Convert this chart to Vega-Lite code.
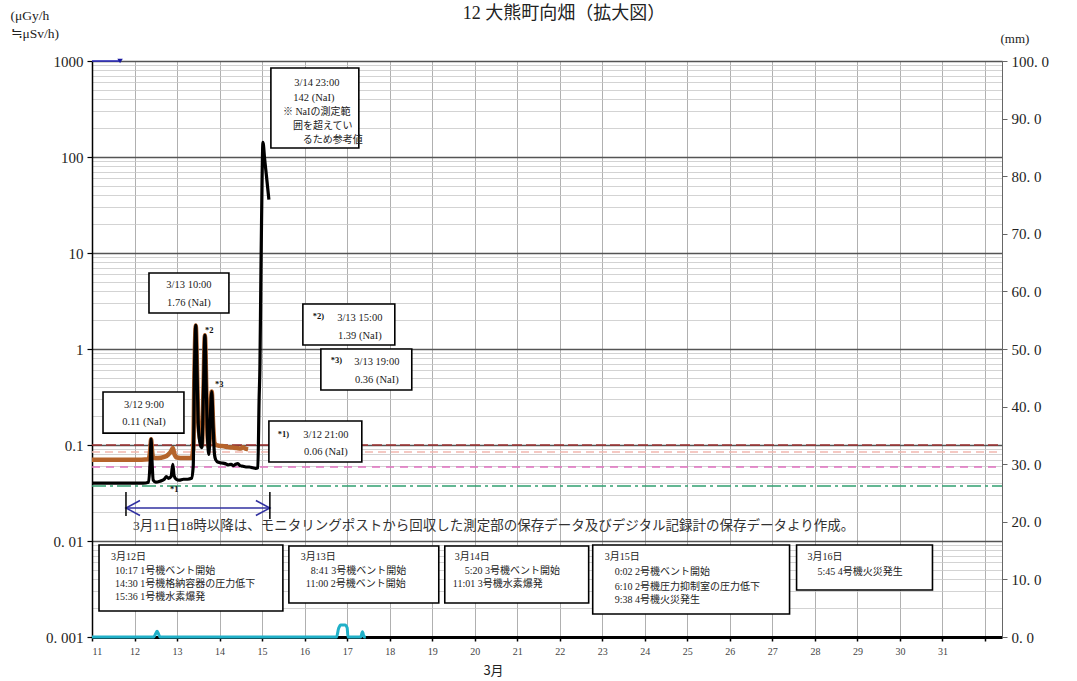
{
  "$schema": "https://vega.github.io/schema/vega-lite/v6.json",
  "width": 910,
  "height": 576,
  "autosize": {"type": "none"},
  "padding": {"left": 92, "top": 61, "right": 75, "bottom": 44},
  "background": "white",
  "config": {"view": {"stroke": "#666666", "strokeWidth": 1}},
  "title": {"text": "12 大熊町向畑（拡大図）", "font": "Liberation Serif, Noto Sans CJK JP", "fontSize": 18, "fontWeight": "normal", "color": "#222222", "anchor": "middle", "frame": "group", "dx": 17, "dy": 15, "offset": 0},
  "datasets": {
    "black": [
      {"d": 11.0, "v": 0.040}, {"d": 11.3, "v": 0.040}, {"d": 11.6, "v": 0.040}, {"d": 11.9, "v": 0.040}, {"d": 12.2, "v": 0.040},
      {"d": 12.33, "v": 0.041}, {"d": 12.37, "v": 0.07}, {"d": 12.39, "v": 0.115}, {"d": 12.41, "v": 0.07}, {"d": 12.44, "v": 0.043},
      {"d": 12.5, "v": 0.041}, {"d": 12.6, "v": 0.042}, {"d": 12.7, "v": 0.044}, {"d": 12.75, "v": 0.047}, {"d": 12.8, "v": 0.045},
      {"d": 12.86, "v": 0.047}, {"d": 12.9, "v": 0.063}, {"d": 12.93, "v": 0.048}, {"d": 12.98, "v": 0.044}, {"d": 13.05, "v": 0.043},
      {"d": 13.15, "v": 0.044}, {"d": 13.25, "v": 0.044}, {"d": 13.34, "v": 0.045}, {"d": 13.38, "v": 0.06}, {"d": 13.41, "v": 0.6},
      {"d": 13.44, "v": 1.76}, {"d": 13.47, "v": 0.6}, {"d": 13.5, "v": 0.16}, {"d": 13.55, "v": 0.1}, {"d": 13.585, "v": 0.094},
      {"d": 13.62, "v": 0.35}, {"d": 13.655, "v": 1.39}, {"d": 13.69, "v": 0.35}, {"d": 13.72, "v": 0.11}, {"d": 13.75, "v": 0.08},
      {"d": 13.78, "v": 0.18}, {"d": 13.815, "v": 0.36}, {"d": 13.85, "v": 0.15}, {"d": 13.88, "v": 0.08}, {"d": 13.91, "v": 0.07},
      {"d": 13.97, "v": 0.066}, {"d": 14.05, "v": 0.065}, {"d": 14.13, "v": 0.064}, {"d": 14.2, "v": 0.062}, {"d": 14.27, "v": 0.063},
      {"d": 14.33, "v": 0.061}, {"d": 14.38, "v": 0.063}, {"d": 14.43, "v": 0.064}, {"d": 14.48, "v": 0.061}, {"d": 14.55, "v": 0.06},
      {"d": 14.62, "v": 0.059}, {"d": 14.7, "v": 0.059}, {"d": 14.78, "v": 0.058}, {"d": 14.85, "v": 0.057}, {"d": 14.9, "v": 0.058},
      {"d": 14.93, "v": 0.3}, {"d": 14.95, "v": 0.7}, {"d": 14.97, "v": 5}, {"d": 15.0, "v": 60}, {"d": 15.02, "v": 142},
      {"d": 15.06, "v": 95}, {"d": 15.1, "v": 65}, {"d": 15.16, "v": 36}
    ],
    "orange": [
      {"d": 11.0, "v": 0.070}, {"d": 11.5, "v": 0.070}, {"d": 12.0, "v": 0.070}, {"d": 12.33, "v": 0.071}, {"d": 12.37, "v": 0.09},
      {"d": 12.39, "v": 0.115}, {"d": 12.41, "v": 0.09}, {"d": 12.44, "v": 0.074}, {"d": 12.55, "v": 0.073}, {"d": 12.7, "v": 0.075},
      {"d": 12.8, "v": 0.08}, {"d": 12.86, "v": 0.086}, {"d": 12.9, "v": 0.093}, {"d": 12.94, "v": 0.08}, {"d": 13.0, "v": 0.074},
      {"d": 13.15, "v": 0.073}, {"d": 13.34, "v": 0.073}, {"d": 13.38, "v": 0.09}, {"d": 13.41, "v": 0.6}, {"d": 13.44, "v": 1.76},
      {"d": 13.47, "v": 0.6}, {"d": 13.5, "v": 0.17}, {"d": 13.55, "v": 0.11}, {"d": 13.585, "v": 0.1}, {"d": 13.62, "v": 0.35},
      {"d": 13.655, "v": 1.39}, {"d": 13.69, "v": 0.35}, {"d": 13.72, "v": 0.12}, {"d": 13.75, "v": 0.095}, {"d": 13.78, "v": 0.18},
      {"d": 13.815, "v": 0.36}, {"d": 13.85, "v": 0.16}, {"d": 13.88, "v": 0.105}, {"d": 13.92, "v": 0.1}, {"d": 14.0, "v": 0.098},
      {"d": 14.1, "v": 0.097}, {"d": 14.2, "v": 0.095}, {"d": 14.3, "v": 0.094}, {"d": 14.4, "v": 0.093}, {"d": 14.5, "v": 0.092},
      {"d": 14.55, "v": 0.095}, {"d": 14.6, "v": 0.092}, {"d": 14.67, "v": 0.09}
    ],
    "topline": [{"d": 11.0, "v": 1000}, {"d": 11.33, "v": 1000}, {"d": 11.66, "v": 1000}],
    "topmark": [{"d": 11.66, "v": 1000}],
    "rain": [
      {"d": 11.0, "r": 0}, {"d": 12.45, "r": 0}, {"d": 12.5, "r": 0.6}, {"d": 12.53, "r": 1.0}, {"d": 12.56, "r": 0.6}, {"d": 12.6, "r": 0},
      {"d": 16.75, "r": 0}, {"d": 16.8, "r": 1.5}, {"d": 16.85, "r": 2.1}, {"d": 16.95, "r": 2.1}, {"d": 17.0, "r": 1.6}, {"d": 17.02, "r": 0},
      {"d": 17.32, "r": 0}, {"d": 17.36, "r": 0.9}, {"d": 17.4, "r": 0}, {"d": 17.44, "r": 0}
    ],
    "refs": [
      {"v": 0.1, "k": "a"}, {"v": 0.0845, "k": "b"}, {"v": 0.059, "k": "c"}, {"v": 0.0374, "k": "d"}
    ],
    "arrow": [{"x1": 11.799, "x2": 15.183, "v": 0.02208}],
    "arrowheads": [{"d": 11.799, "v": 0.02208, "dir": "L"}, {"d": 15.183, "v": 0.02208, "dir": "R"}],
    "ticks": [{"d": 11.799, "v1": 0.0324, "v2": 0.0182}, {"d": 15.183, "v1": 0.0324, "v2": 0.017}],
    "boxes": [
      {"x1": 15.207, "x2": 17.275, "y1": 845, "y2": 124},
      {"x1": 12.34, "x2": 14.22, "y1": 6.19, "y2": 2.37},
      {"x1": 15.959, "x2": 18.121, "y1": 2.94, "y2": 1.10},
      {"x1": 16.382, "x2": 18.52, "y1": 1.0, "y2": 0.374},
      {"x1": 15.16, "x2": 17.345, "y1": 0.178, "y2": 0.0666},
      {"x1": 11.259, "x2": 13.162, "y1": 0.356, "y2": 0.133},
      {"x1": 11.165, "x2": 15.489, "y1": 0.00908, "y2": 0.001866},
      {"x1": 15.63, "x2": 19.155, "y1": 0.00887, "y2": 0.00226},
      {"x1": 19.296, "x2": 22.68, "y1": 0.00887, "y2": 0.00226},
      {"x1": 22.775, "x2": 27.404, "y1": 0.00908, "y2": 0.001738},
      {"x1": 27.569, "x2": 30.765, "y1": 0.00908, "y2": 0.00309}
    ],
    "textc": [
      {"d": 16.288, "v": 590, "t": "3/14 23:00"},
      {"d": 16.217, "v": 412, "t": "142 (NaI)"},
      {"d": 13.28, "v": 4.64, "t": "3/13 10:00"},
      {"d": 13.28, "v": 3.01, "t": "1.76 (NaI)"},
      {"d": 17.298, "v": 2.10, "t": "3/13 15:00"},
      {"d": 17.298, "v": 1.36, "t": "1.39 (NaI)"},
      {"d": 17.698, "v": 0.733, "t": "3/13 19:00"},
      {"d": 17.698, "v": 0.475, "t": "0.36 (NaI)"},
      {"d": 16.5, "v": 0.127, "t": "3/12 21:00"},
      {"d": 16.5, "v": 0.0845, "t": "0.06 (NaI)"},
      {"d": 12.222, "v": 0.261, "t": "3/12 9:00"},
      {"d": 12.222, "v": 0.174, "t": "0.11 (NaI)"}
    ],
    "textl": [
      {"d": 15.489, "v": 294, "t": "※ NaIの測定範"},
      {"d": 15.724, "v": 210, "t": "囲を超えてい"},
      {"d": 15.959, "v": 150, "t": "るため参考値"},
      {"d": 11.447, "v": 0.00681, "t": "3月12日"},
      {"d": 11.541, "v": 0.00487, "t": "10:17 1号機ベント開始"},
      {"d": 11.541, "v": 0.00357, "t": "14:30 1号機格納容器の圧力低下"},
      {"d": 11.541, "v": 0.00261, "t": "15:36 1号機水素爆発"},
      {"d": 15.912, "v": 0.00681, "t": "3月13日"},
      {"d": 16.147, "v": 0.00487, "t": "8:41 3号機ベント開始"},
      {"d": 16.029, "v": 0.00357, "t": "11:00 2号機ベント開始"},
      {"d": 19.531, "v": 0.00681, "t": "3月14日"},
      {"d": 19.766, "v": 0.00487, "t": "5:20 3号機ベント開始"},
      {"d": 19.484, "v": 0.00357, "t": "11:01 3号機水素爆発"},
      {"d": 23.057, "v": 0.00681, "t": "3月15日"},
      {"d": 23.292, "v": 0.00475, "t": "0:02 2号機ベント開始"},
      {"d": 23.292, "v": 0.00332, "t": "6:10 2号機圧力抑制室の圧力低下"},
      {"d": 23.292, "v": 0.00243, "t": "9:38 4号機火災発生"},
      {"d": 27.827, "v": 0.00681, "t": "3月16日"},
      {"d": 28.062, "v": 0.00475, "t": "5:45 4号機火災発生"}
    ],
    "marks": [
      {"d": 16.19, "v": 2.21, "t": "*2)"},
      {"d": 16.617, "v": 0.763, "t": "*3)"},
      {"d": 15.371, "v": 0.131, "t": "*1)"},
      {"d": 12.833, "v": 0.0348, "t": "*1"},
      {"d": 13.656, "v": 1.58, "t": "*2"},
      {"d": 13.89, "v": 0.431, "t": "*3"}
    ],
    "note": [
      {"d": 11.964, "v": 0.01432, "t": "3月11日18時以降は、モニタリングポストから回収した測定部の保存データ及びデジタル記録計の保存データより作成。"}
    ]
  },
  "layer": [
    {
      "layer": [
        {
          "data": {"name": "refs"},
          "mark": {"type": "rule", "strokeWidth": 1.5},
          "encoding": {
            "x": {"datum": 11, "type": "quantitative",
              "scale": {"domain": [11, 32.4], "nice": false, "zero": false},
              "axis": {
                "values": [11, 11.5, 12, 12.5, 13, 13.5, 14, 14.5, 15, 15.5, 16, 16.5, 17, 17.5, 18, 18.5, 19, 19.5, 20, 20.5, 21, 21.5, 22, 22.5, 23, 23.5, 24, 24.5, 25, 25.5, 26, 26.5, 27, 27.5, 28, 28.5, 29, 29.5, 30, 30.5, 31, 31.5, 32],
                "grid": true, "gridColor": "#b0b0b0", "gridWidth": 1,
                "labelExpr": "(datum.value % 1 == 0 && datum.value <= 31) ? format(datum.value, 'd') : ''",
                "labelFont": "Liberation Serif", "labelFontSize": 10, "labelColor": "#444444", "labelPadding": 5, "labelOverlap": false, "labelBound": false,
                "tickColor": "#000000", "tickSize": 4, "tickWidth": 1.5,
                "tickOpacity": {"condition": {"test": "datum.value % 1 == 0", "value": 1}, "value": 0},
                "domainColor": "#000000", "domainWidth": 3,
                "title": "3月", "titleFont": "Noto Sans CJK JP", "titleFontSize": 13, "titleFontWeight": "normal", "titleColor": "#222222",
                "titleX": 401, "titleY": 33, "titleBaseline": "middle", "titleAlign": "center"
              }
            },
            "x2": {"datum": 32.4},
            "y": {"field": "v", "type": "quantitative",
              "scale": {"type": "log", "domain": [0.001, 1000], "nice": false},
              "axis": {
                "orient": "left",
                "values": [0.001, 0.002, 0.003, 0.004, 0.005, 0.006, 0.007, 0.008, 0.009, 0.01, 0.02, 0.03, 0.04, 0.05, 0.06, 0.07, 0.08, 0.09, 0.1, 0.2, 0.3, 0.4, 0.5, 0.6, 0.7, 0.8, 0.9, 1, 2, 3, 4, 5, 6, 7, 8, 9, 10, 20, 30, 40, 50, 60, 70, 80, 90, 100, 200, 300, 400, 500, 600, 700, 800, 900, 1000],
                "grid": true,
                "gridColor": {"condition": {"test": "abs(log(datum.value)/LN10 - round(log(datum.value)/LN10)) < 0.001", "value": "#555555"}, "value": "#c8c8c8"},
                "gridWidth": {"condition": {"test": "abs(log(datum.value)/LN10 - round(log(datum.value)/LN10)) < 0.001", "value": 1.5}, "value": 0.8},
                "tickOpacity": {"condition": {"test": "abs(log(datum.value)/LN10 - round(log(datum.value)/LN10)) < 0.001", "value": 1}, "value": 0},
                "tickColor": "#000000", "tickSize": 5, "tickWidth": 1.2,
                "labelExpr": "abs(log(datum.value)/LN10 - round(log(datum.value)/LN10)) > 0.001 ? '' : (datum.value >= 1 ? format(datum.value, 'd') : (datum.value > 0.05 ? '0.1' : (datum.value > 0.005 ? '0. 01' : '0. 001')))",
                "labelFont": "Liberation Serif", "labelFontSize": 15, "labelColor": "#222222", "labelPadding": 4, "labelOverlap": false, "labelBound": false,
                "domainColor": "#000000", "domainWidth": 1.5,
                "title": ["(μGy/h", " ≒μSv/h)"], "titleAngle": 0, "titleX": -82, "titleY": -46,
                "titleAlign": "left", "titleBaseline": "middle", "titleFont": "Liberation Serif, Noto Sans CJK JP", "titleFontSize": 13.5, "titleFontWeight": "normal", "titleColor": "#222222", "titleLineHeight": 18
              }
            },
            "color": {"field": "k", "type": "nominal", "scale": {"domain": ["a", "b", "c", "d"], "range": ["#A03030", "#F2B8B0", "#E070C0", "#30A070"]}, "legend": null},
            "strokeDash": {"field": "k", "type": "nominal", "scale": {"domain": ["a", "b", "c", "d"], "range": [[10, 4], [8, 5], [8, 6], [14, 4, 3, 4]]}, "legend": null}
          }
        },
        {
          "data": {"name": "orange"},
          "mark": {"type": "line", "color": "#B5642C", "strokeWidth": 4.5, "interpolate": "monotone"},
          "encoding": {"x": {"field": "d", "type": "quantitative"}, "y": {"field": "v", "type": "quantitative"}}
        },
        {
          "data": {"name": "black"},
          "mark": {"type": "line", "color": "#000000", "strokeWidth": 3.2, "interpolate": "monotone"},
          "encoding": {"x": {"field": "d", "type": "quantitative"}, "y": {"field": "v", "type": "quantitative"}}
        },
        {
          "data": {"name": "topline"},
          "mark": {"type": "line", "color": "#2828C0", "strokeWidth": 1.5},
          "encoding": {"x": {"field": "d", "type": "quantitative"}, "y": {"field": "v", "type": "quantitative"}}
        },
        {
          "data": {"name": "topmark"},
          "mark": {"type": "point", "shape": "triangle-down", "filled": true, "color": "#1a1aa0", "size": 30, "opacity": 1},
          "encoding": {"x": {"field": "d", "type": "quantitative"}, "y": {"field": "v", "type": "quantitative"}}
        },
        {
          "data": {"name": "arrow"},
          "mark": {"type": "rule", "color": "#3030A0", "strokeWidth": 1.5},
          "encoding": {"x": {"field": "x1", "type": "quantitative"}, "x2": {"field": "x2"}, "y": {"field": "v", "type": "quantitative"}}
        },
        {
          "data": {"name": "arrowheads"},
          "mark": {"type": "point", "filled": false, "strokeWidth": 1.5, "color": "#3030A0", "size": 100, "opacity": 1},
          "encoding": {
            "x": {"field": "d", "type": "quantitative"},
            "y": {"field": "v", "type": "quantitative"},
            "shape": {"field": "dir", "type": "nominal", "scale": {"domain": ["L", "R"], "range": ["M 2.8 -1.5 L 0 0 L 2.8 1.5", "M -2.8 -1.5 L 0 0 L -2.8 1.5"]}, "legend": null}
          }
        },
        {
          "data": {"name": "ticks"},
          "mark": {"type": "rule", "color": "#000000", "strokeWidth": 1.5},
          "encoding": {"x": {"field": "d", "type": "quantitative"}, "y": {"field": "v1", "type": "quantitative"}, "y2": {"field": "v2"}}
        },
        {
          "data": {"name": "boxes"},
          "mark": {"type": "rect", "fill": "white", "stroke": "#000000", "strokeWidth": 1.6},
          "encoding": {"x": {"field": "x1", "type": "quantitative"}, "x2": {"field": "x2"}, "y": {"field": "y1", "type": "quantitative"}, "y2": {"field": "y2"}}
        },
        {
          "data": {"name": "textc"},
          "mark": {"type": "text", "align": "center", "baseline": "middle", "font": "Liberation Serif, Noto Sans CJK JP", "fontSize": 10.5, "color": "#222222"},
          "encoding": {"x": {"field": "d", "type": "quantitative"}, "y": {"field": "v", "type": "quantitative"}, "text": {"field": "t"}}
        },
        {
          "data": {"name": "textl"},
          "mark": {"type": "text", "align": "left", "baseline": "middle", "font": "Liberation Serif, Noto Sans CJK JP", "fontSize": 10, "color": "#222222"},
          "encoding": {"x": {"field": "d", "type": "quantitative"}, "y": {"field": "v", "type": "quantitative"}, "text": {"field": "t"}}
        },
        {
          "data": {"name": "marks"},
          "mark": {"type": "text", "align": "left", "baseline": "middle", "font": "Liberation Serif", "fontSize": 8.5, "fontWeight": "bold", "color": "#111111"},
          "encoding": {"x": {"field": "d", "type": "quantitative"}, "y": {"field": "v", "type": "quantitative"}, "text": {"field": "t"}}
        },
        {
          "data": {"name": "note"},
          "mark": {"type": "text", "align": "left", "baseline": "middle", "font": "Liberation Serif, Noto Sans CJK JP", "fontSize": 13.5, "color": "#333333"},
          "encoding": {"x": {"field": "d", "type": "quantitative"}, "y": {"field": "v", "type": "quantitative"}, "text": {"field": "t"}}
        }
      ]
    },
    {
      "data": {"name": "rain"},
      "mark": {"type": "line", "color": "#20B0C8", "strokeWidth": 3, "interpolate": "monotone"},
      "encoding": {
        "x": {"field": "d", "type": "quantitative"},
        "y": {"field": "r", "type": "quantitative",
          "scale": {"domain": [0, 100], "nice": false},
          "axis": {
            "orient": "right", "values": [0, 10, 20, 30, 40, 50, 60, 70, 80, 90, 100], "grid": false,
            "labelExpr": "replace(format(datum.value, '.1f'), '.', '. ')",
            "labelFont": "Liberation Serif", "labelFontSize": 15, "labelColor": "#222222", "labelPadding": 4, "labelBound": false, "labelOverlap": false,
            "tickColor": "#666666", "tickSize": 5, "domainColor": "#666666", "domainWidth": 1,
            "title": "(mm)", "titleAngle": 0, "titleX": -2, "titleY": -23, "titleAlign": "left", "titleBaseline": "middle",
            "titleFont": "Liberation Serif", "titleFontSize": 13, "titleFontWeight": "normal", "titleColor": "#222222"
          }
        }
      }
    }
  ],
  "resolve": {"scale": {"y": "independent"}}
}
